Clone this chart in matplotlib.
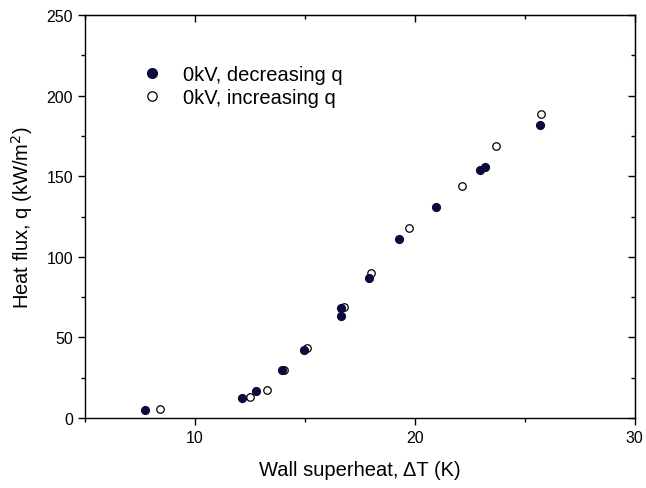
import matplotlib.pyplot as plt
from matplotlib.ticker import MultipleLocator

plt.rcParams['font.family'] = ['Liberation Sans', 'DejaVu Sans']

# 0kV, decreasing q
dec_dT = [7.75, 12.13, 12.77, 13.95, 14.98, 16.62, 16.66, 17.9, 19.3, 20.95, 22.94, 23.17, 25.67]
dec_q = [5.0, 12.4, 17.0, 30.0, 42.4, 63.0, 68.5, 86.8, 110.8, 131.0, 153.8, 155.8, 181.5]

# 0kV, increasing q
inc_dT = [8.42, 12.51, 13.29, 14.03, 15.1, 16.78, 18.0, 19.72, 22.15, 23.7, 25.72]
inc_q = [5.4, 12.8, 17.2, 30.0, 43.2, 69.0, 90.0, 118.0, 143.7, 169.0, 188.5]

fig = plt.figure(figsize=(6.46, 4.89), dpi=100)
ax = fig.add_axes([0.1316, 0.1431, 0.851, 0.824])

ax.plot(dec_dT, dec_q, 'o', ms=5.6, color='#0b0b3b', mec='#0b0b3b',
        label='0kV, decreasing q', zorder=3)
ax.plot(inc_dT, inc_q, 'o', ms=5.4, mfc='white', mec='black', mew=0.9,
        label='0kV, increasing q', zorder=2)

ax.set_xlim(5, 30)
ax.set_ylim(0, 250)
ax.xaxis.set_major_locator(MultipleLocator(10))
ax.xaxis.set_minor_locator(MultipleLocator(5))
ax.yaxis.set_major_locator(MultipleLocator(50))
ax.yaxis.set_minor_locator(MultipleLocator(25))

for s in ax.spines.values():
    s.set_linewidth(1.0)
ax.tick_params(which='major', direction='out', length=5, width=1.0, labelsize=11.5)
ax.tick_params(which='minor', direction='out', length=3, width=1.0)

# inward ticks on top and right side
top = ax.secondary_xaxis('top')
top.xaxis.set_major_locator(MultipleLocator(10))
top.xaxis.set_minor_locator(MultipleLocator(5))
top.tick_params(which='major', direction='in', length=5, width=1.0, labeltop=False)
top.tick_params(which='minor', direction='in', length=3, width=1.0)
right = ax.secondary_yaxis('right')
right.yaxis.set_major_locator(MultipleLocator(50))
right.yaxis.set_minor_locator(MultipleLocator(25))
right.tick_params(which='major', direction='in', length=5, width=1.0, labelright=False)
right.tick_params(which='minor', direction='in', length=3, width=1.0)

ax.set_xlabel('Wall superheat, ΔT (K)', fontsize=14.5, labelpad=11)
ax.set_ylabel('Heat flux, q (kW/m$^2$)', fontsize=14.5, labelpad=8)

ax.legend(loc='upper left', bbox_to_anchor=(0.09, 0.897), frameon=False,
          fontsize=14.5, markerscale=1.25, handlelength=0.9, handletextpad=1.1,
          labelspacing=0.2, borderaxespad=0)

fig.savefig('out.png', dpi=100)
